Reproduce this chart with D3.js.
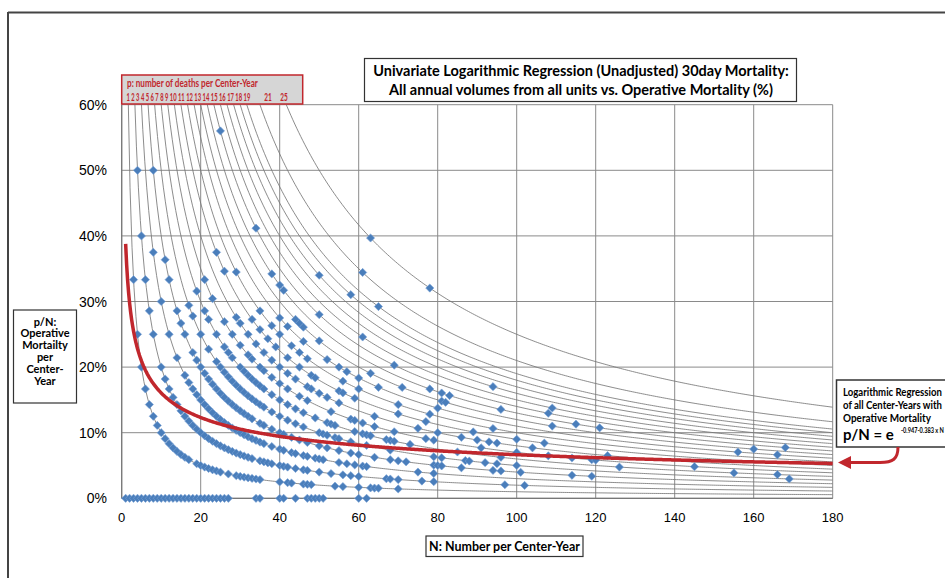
<!DOCTYPE html>
<html><head><meta charset="utf-8">
<script src="https://cdn.jsdelivr.net/npm/d3@7"></script>
<style>body{margin:0;background:#fff}svg{display:block}</style>
</head><body><svg id="c" width="945" height="578"></svg>
<script>
// ---------- data ----------
const xTicks = [0, 20, 40, 60, 80, 100, 120, 140, 160, 180];
const yTicks = [0, 0.1, 0.2, 0.3, 0.4, 0.5, 0.6];
const isoDeaths = [1,2,3,4,5,6,7,8,9,10,11,12,13,14,15,16,17,18,19,21,25];
const regressionCoef = [-0.947, -0.383]; // p/N = e^(a + b*ln N)
const regressionRange = [1, 180];

// N (volume per center-year) observed for each number of deaths p
const nDeaths0 = [1,2,3,4,5,6,7,8,9,10,11,12,13,14,15,16,17,18,19,20,21,22,23,24,25,26,27,34,35,40,41,44,47,48,49,50,51,60,62];
const nDeaths1 = [3,4,5,6,7,8,9,10,11,12,13,14,15,16,17,19,20,21,22,23,24,25,27,29,30,31,32,33,34,35,40,42,43,46,47,48,54,56,60,63,64,65,70];
const nDeaths2 = [4,5,6,7,8,10,11,12,13,14,15,16,17,18,19,20,21,22,23,24,25,26,27,28,29,30,31,32,33,35,36,37,38,40,41,42,44,46,47,50,53,56,58,60,67,68,70,76,79,97,102];
const nDeaths3 = [8,10,12,14,16,17,18,19,20,21,22,23,24,25,26,27,28,29,30,31,32,33,34,35,36,38,40,41,43,44,46,47,49,50,51,55,57,59,61,62,75,79];
const nDeaths4 = [8,11,12,14,15,16,18,19,20,21,22,23,24,25,26,27,28,29,30,31,32,33,35,36,38,40,41,43,45,47,50,52,55,58,60,64,68,70,72,79,80,81,86,94,96,101,114,119];
const nDeaths5 = [17,18,20,22,24,25,26,27,28,29,30,31,32,33,34,35,36,38,40,42,44,46,50,51,52,54,55,58,62,68,79,81,87,88,92,95,100,169];
const nDeaths6 = [19,21,22,24,26,27,28,30,31,32,33,34,35,36,38,40,42,44,46,49,52,53,54,59,61,62,63,67,68,69,73,85,96,126,155,166];
const nDeaths7 = [21,23,26,28,30,32,33,35,36,38,40,42,45,47,53,58,59,61,64,69,77,79,91,100,108,114,119,120,145];
const nDeaths8 = [29,30,32,34,36,38,40,42,44,47,48,50,52,55,64,75,80,86,90,93,95,104,123];
const nDeaths9 = [24,26,33,35,37,39,42,45,48,49,55,56,59,70,77,89,100,107];
const nDeaths10 = [29,35,38,40,43,45,47,56,60,70,78,94];
const nDeaths11 = [40,42,46,52,55,57,60,65,80,156,166];
const nDeaths12 = [44,45,46,50,63,71,81,82,109,160];
const nDeaths13 = [38,40,41,78,81,83,96,115,121,168];
const nDeaths14 = [25,34,50,69,108];
const nDeaths15 = [61,109];
const nDeaths16 = [94];
const nDeaths17 = [50];
const nDeaths18 = [58];
const nDeaths19 = [65];
const nDeaths21 = [61];
const nDeaths25 = [63,78];
const deathGroups = [[0,nDeaths0],[1,nDeaths1],[2,nDeaths2],[3,nDeaths3],[4,nDeaths4],[5,nDeaths5],
  [6,nDeaths6],[7,nDeaths7],[8,nDeaths8],[9,nDeaths9],[10,nDeaths10],[11,nDeaths11],[12,nDeaths12],
  [13,nDeaths13],[14,nDeaths14],[15,nDeaths15],[16,nDeaths16],[17,nDeaths17],[18,nDeaths18],
  [19,nDeaths19],[21,nDeaths21],[25,nDeaths25]];

// ---------- drawing ----------
const svg = d3.select("#c");
const FONT = "Lato, 'Open Sans', sans-serif";
const TICKFONT = "'Liberation Sans', Arial, sans-serif";
const RED = "#c1272d";

// text squeezed horizontally to a given width (condensed look)
function fitText(parent, str, x0, y0, width, size, opts = {}) {
  const g = parent.append("g");
  const t = g.append("text").attr("x", 0).attr("y", 0)
    .attr("font-family", opts.family || FONT).attr("font-size", size)
    .attr("font-weight", opts.weight || "normal").attr("fill", opts.fill || "#000")
    .attr("text-anchor", opts.anchor || "start").text(str);
  const w = t.node().getComputedTextLength();
  const k = Math.min(1, width / w);
  g.attr("transform", `translate(${x0},${y0}) scale(${k},1)`);
  return t;
}

const x = d3.scaleLinear().domain([0, 180]).range([121.7, 832.7]);
const y = d3.scaleLinear().domain([0, 0.6]).range([498.3, 104.7]);

// outer frame
svg.append("line").attr("x1", 8).attr("x2", 945).attr("y1", 12.5).attr("y2", 12.5).attr("stroke", "#444").attr("stroke-width", 2);
svg.append("line").attr("x1", 8).attr("x2", 8).attr("y1", 12).attr("y2", 578).attr("stroke", "#444").attr("stroke-width", 2);

svg.append("defs").append("clipPath").attr("id", "plot")
  .append("rect").attr("x", x(0)).attr("y", y(0.6)).attr("width", x(180) - x(0)).attr("height", y(0) - y(0.6));

// grid
const grid = svg.append("g");
grid.selectAll("line.v").data(xTicks).join("line")
  .attr("x1", d => x(d)).attr("x2", d => x(d)).attr("y1", y(0.6)).attr("y2", y(0))
  .attr("stroke", "#8a8a8a").attr("stroke-width", 1);
grid.selectAll("line.h").data(yTicks).join("line")
  .attr("x1", x(0)).attr("x2", x(180)).attr("y1", d => y(d)).attr("y2", d => y(d))
  .attr("stroke", "#8a8a8a").attr("stroke-width", 1);

// iso-death curves p/N
const iso = svg.append("g").attr("clip-path", "url(#plot)");
const isoLine = d3.line().x(d => x(d[0])).y(d => y(d[1]));
isoDeaths.forEach(p => {
  const start = p / 0.62;
  const pts = d3.range(start, 180.01, 0.5).map(n => [n, p / n]);
  pts.push([180, p / 180]);
  iso.append("path").attr("d", isoLine(pts)).attr("fill", "none")
    .attr("stroke", "#777").attr("stroke-width", 0.85);
});

// axes lines
svg.append("line").attr("x1", x(0)).attr("x2", x(0)).attr("y1", y(0.6)).attr("y2", y(0)).attr("stroke", "#777").attr("stroke-width", 1.2);
svg.append("line").attr("x1", x(0)).attr("x2", x(180)).attr("y1", y(0)).attr("y2", y(0)).attr("stroke", "#777").attr("stroke-width", 1.2);

// tick labels
svg.append("g").selectAll("text").data(yTicks).join("text")
  .attr("x", 107).attr("y", d => y(d) + 5).attr("text-anchor", "end")
  .attr("font-family", TICKFONT).attr("font-size", 14).attr("fill", "#000")
  .text(d => Math.round(d * 100) + "%");
svg.append("g").selectAll("text").data(xTicks).join("text")
  .attr("x", d => x(d)).attr("y", 522).attr("text-anchor", "middle")
  .attr("font-family", TICKFONT).attr("font-size", 13).attr("fill", "#000")
  .text(d => d);

// points
const pts = [];
deathGroups.forEach(([p, arr]) => arr.forEach(n => pts.push({n, p, v: p / n})));
const r = 4.1;
svg.append("g").selectAll("path").data(pts).join("path")
  .attr("transform", d => `translate(${x(d.n)},${y(d.v)})`)
  .attr("d", `M0,${-r}L${r},0L0,${r}L${-r},0Z`)
  .attr("fill", "#4a7ebb").attr("stroke", "#7aa3d6").attr("stroke-width", 0.6);

// regression curve
const regPts = d3.range(regressionRange[0], regressionRange[1] + 0.01, 0.25)
  .map(n => [n, Math.exp(regressionCoef[0] + regressionCoef[1] * Math.log(n))]);
svg.append("path").attr("d", isoLine(regPts)).attr("fill", "none")
  .attr("stroke", RED).attr("stroke-width", 3.5);

// legend box for p values
svg.append("rect").attr("x", 121.7).attr("y", 75).attr("width", 181).attr("height", 29)
  .attr("fill", "#d6d6d6").attr("stroke", RED).attr("stroke-width", 1.5);
fitText(svg, "p: number of deaths per Center-Year", 127, 87, 131, 10.5, {fill: RED, weight: "bold"});
const seqLabels = isoDeaths.filter(p => p <= 19);
const tailLabels = isoDeaths.filter(p => p > 19);
fitText(svg, seqLabels.join(" "), 126.5, 101, 124, 11.5, {fill: RED, weight: "bold"});
tailLabels.forEach((d, i) => fitText(svg, String(d), i === 0 ? 268 : 284, 101, 7.5, 11.5,
  {fill: RED, weight: "bold", anchor: "middle"}));

// title box
svg.append("rect").attr("x", 364.5).attr("y", 58.5).attr("width", 432).attr("height", 43)
  .attr("fill", "#fff").attr("stroke", "#333").attr("stroke-width", 1.2);
fitText(svg, "Univariate Logarithmic Regression (Unadjusted) 30day Mortality:", 581, 75.5, 426, 14.5,
  {weight: "bold", anchor: "middle"});
fitText(svg, "All annual volumes from all units vs.  Operative Mortality (%)", 581, 95, 397, 14.5,
  {weight: "bold", anchor: "middle"});

// y axis title box
svg.append("rect").attr("x", 13.5).attr("y", 310).attr("width", 63).attr("height", 93)
  .attr("fill", "#fff").attr("stroke", "#333").attr("stroke-width", 1.2);
const yLab = ["p/N:", "Operative", "Mortailty", "per", "Center-", "Year"];
svg.append("g").selectAll("text").data(yLab).join("text")
  .attr("x", 45).attr("y", (d, i) => 325.5 + i * 11.8).attr("text-anchor", "middle")
  .attr("font-family", FONT).attr("font-weight", "bold").attr("font-size", 11)
  .text(d => d);

// x axis title box
svg.append("rect").attr("x", 426).attr("y", 536).attr("width", 157).attr("height", 20.5)
  .attr("fill", "#fff").attr("stroke", "#333").attr("stroke-width", 1.2);
fitText(svg, "N: Number per Center-Year", 504.5, 550.5, 151, 13, {weight: "bold", anchor: "middle"});

// annotation box on right
svg.append("rect").attr("x", 836.5).attr("y", 380).attr("width", 120).attr("height", 67)
  .attr("fill", "#fff").attr("stroke", "#333").attr("stroke-width", 1.5);
const ann = ["Logarithmic Regression", "of all Center-Years with", "Operative Mortality"];
const annW = [99, 99, 88];
ann.forEach((s, i) => fitText(svg, s, 843, 395.5 + i * 13, annW[i], 10.5, {weight: "bold"}));
fitText(svg, "p/N = e", 843, 440, 57, 15, {weight: "bold"});
fitText(svg, "-0.947-0.383 x N", 901, 432.5, 43, 8, {weight: "bold"});

// red arrow
svg.append("path").attr("d", "M898,447 C898,459 893,462.5 880,462.5 L849,462.5")
  .attr("fill", "none").attr("stroke", RED).attr("stroke-width", 3);
svg.append("path").attr("d", "M838,462.5 L851,456 L851,469 Z").attr("fill", RED);
</script></body></html>
